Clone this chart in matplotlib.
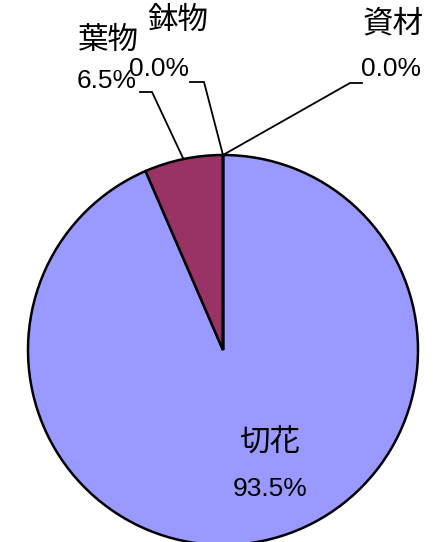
import numpy as np
import matplotlib.pyplot as plt

plt.rcParams['font.family'] = ['Noto Sans CJK JP', 'DejaVu Sans']

categories = ['切花', '葉物', '鉢物', '資材']
shares = [93.5, 6.5, 0.0, 0.0]
colors = ['#9999FF', '#993366', '#FFFFCC', '#CCFFFF']

# label placement (pixel coords, y from top) and leader elbow points
label_pos = {'切花': (270, 443), '葉物': (108, 40), '鉢物': (178, 20), '資材': (393, 24)}
pct_pos = {'切花': (270, 489), '葉物': (107, 81), '鉢物': (159, 69), '資材': (391, 69)}
elbows = {'葉物': [(140, 92), (152, 92)], '鉢物': [(190, 82), (204, 82)], '資材': [(362, 83), (350, 83)]}

W, H = 436, 542
fig = plt.figure(figsize=(W / 100, H / 100), dpi=100)
ax = fig.add_axes([0, 0, 1, 1])

cx, cy, r = 223, H - 350, 195
wedges, _ = ax.pie(shares, colors=colors, startangle=90, counterclock=False,
                   center=(cx, cy), radius=r, frame=True,
                   wedgeprops=dict(edgecolor='black', linewidth=1.8))
ax.set_xlim(0, W)
ax.set_ylim(0, H)
ax.set_aspect('equal')
ax.axis('off')

for w, name, val in zip(wedges, categories, shares):
    lx, ly = label_pos[name]
    px, py = pct_pos[name]
    ax.text(lx, H - ly, name, fontsize=22, ha='center', va='center')
    ax.text(px, H - py, f'{val:.1f}%', fontsize=19, ha='center', va='center',
            family=['Liberation Sans', 'DejaVu Sans'])
    if name in elbows:
        mid = np.deg2rad((w.theta1 + w.theta2) / 2)
        ex, ey = cx + r * np.cos(mid), cy + r * np.sin(mid)
        pts = elbows[name]
        xs = [p[0] for p in pts] + [ex]
        ys = [H - p[1] for p in pts] + [ey]
        ax.plot(xs, ys, color='black', lw=1.3, solid_joinstyle='miter')

fig.savefig('out.png', dpi=100)
